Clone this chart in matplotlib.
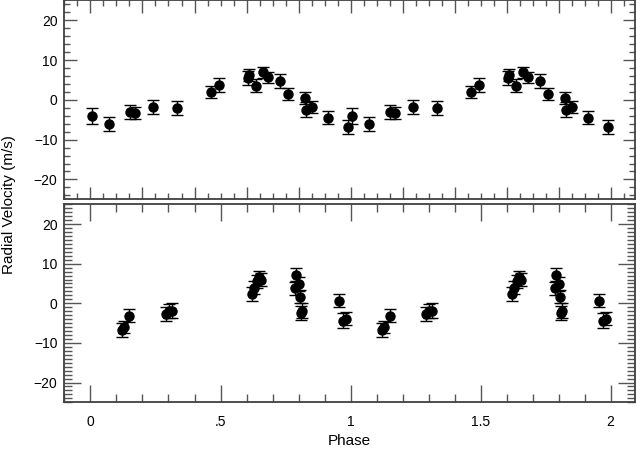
import numpy as np
import matplotlib
matplotlib.use('Agg')
import matplotlib.pyplot as plt
from matplotlib.ticker import MultipleLocator, FuncFormatter

plt.rcParams['font.family'] = ['Liberation Sans', 'DejaVu Sans']

# Top panel: phase in [0, 1), velocity (m/s), error (m/s)
top_phase = [0.004, 0.070, 0.152, 0.172, 0.241, 0.333, 0.465, 0.495, 0.606, 0.609,
             0.638, 0.664, 0.681, 0.727, 0.761, 0.824, 0.828, 0.851, 0.914, 0.992]
top_rv = [-3.96, -6.06, -2.95, -3.2, -1.77, -2.02, 2.02, 3.79, 5.55, 6.23,
          3.6, 6.9, 5.64, 4.71, 1.52, 0.5, -2.44, -1.77, -4.46, -6.9]
top_err = [2.0, 1.64, 1.77, 1.5, 1.8, 1.85, 1.6, 1.7, 1.77, 1.6,
           1.67, 1.5, 1.5, 1.72, 1.43, 1.43, 1.9, 1.6, 1.6, 1.72]

# Bottom panel
bot_phase = [0.122, 0.129, 0.150, 0.290, 0.301, 0.315, 0.620, 0.628, 0.641, 0.647,
             0.654, 0.786, 0.792, 0.800, 0.806, 0.810, 0.814, 0.956, 0.972, 0.982]
bot_rv = [-6.8, -6.0, -3.1, -2.7, -2.0, -1.85, 2.37, 3.95, 5.55, 6.65,
          5.97, 3.8, 7.23, 4.9, 1.7, -2.4, -1.84, 0.68, -4.36, -3.9]
bot_err = [1.7, 1.6, 1.7, 1.8, 1.7, 1.8, 1.7, 1.7, 1.7, 1.6,
           1.7, 1.7, 1.6, 1.7, 1.6, 1.8, 1.8, 1.6, 1.8, 1.7]

fig = plt.figure(figsize=(6.36, 4.49), dpi=100)
ax1 = fig.add_axes([0.1014, 0.5561, 0.897, 0.4428])
ax2 = fig.add_axes([0.1014, 0.1040, 0.897, 0.4410])

spine_col = '#404040'
tick_col = '#555555'


def draw(ax, ph, rv, err):
    ph = np.array(ph)
    rv = np.array(rv)
    err = np.array(err)
    for shift in (0, 1):
        ax.errorbar(ph + shift, rv, yerr=err, fmt='o', color='black',
                    markersize=6.5, elinewidth=1, capsize=4, capthick=1)
    ax.set_xlim(-0.1, 2.094)
    ax.set_ylim(-25, 25)
    for s in ax.spines.values():
        s.set_color(spine_col)
        s.set_linewidth(1.3)
    ax.yaxis.set_major_locator(MultipleLocator(10))
    ax.tick_params(which='both', direction='in', top=True, right=True,
                   color=tick_col, width=1, labelsize=10, labelcolor='black')


draw(ax1, top_phase, top_rv, top_err)
ax1.xaxis.set_major_locator(MultipleLocator(0.2))
ax1.xaxis.set_minor_locator(MultipleLocator(0.05))
ax1.yaxis.set_minor_locator(MultipleLocator(2))
ax1.tick_params(which='major', length=9, pad=5)
ax1.tick_params(which='minor', length=4.5)
ax1.tick_params(axis='x', labelbottom=False)

draw(ax2, bot_phase, bot_rv, bot_err)
ax2.xaxis.set_major_locator(MultipleLocator(0.5))
ax2.xaxis.set_minor_locator(MultipleLocator(0.1))
ax2.yaxis.set_minor_locator(MultipleLocator(1))
ax2.tick_params(which='major', length=12, pad=5)
ax2.tick_params(which='minor', length=6)
ax2.tick_params(axis='x', pad=9)


def phase_fmt(v, pos):
    s = '%g' % round(v, 2)
    if s.startswith('0.'):
        s = s[1:]
    return s


ax2.xaxis.set_major_formatter(FuncFormatter(phase_fmt))
ax2.set_xlabel('Phase', fontsize=11, labelpad=4)

fig.text(0.014, 0.545, 'Radial Velocity (m/s)', rotation=90, fontsize=11,
         ha='center', va='center')

fig.savefig('out.png', dpi=100)
